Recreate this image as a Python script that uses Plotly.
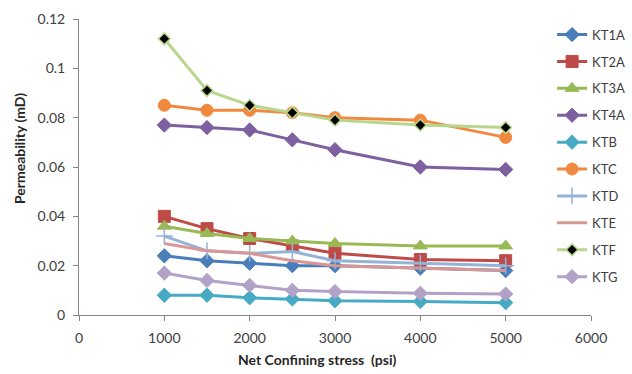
import plotly.graph_objects as go

stress = [1000, 1500, 2000, 2500, 3000, 4000, 5000]

KT1A = [0.024, 0.022, 0.021, 0.020, 0.020, 0.019, 0.018]
KT2A = [0.040, 0.035, 0.031, 0.028, 0.025, 0.0225, 0.022]
KT3A = [0.036, 0.033, 0.031, 0.030, 0.029, 0.028, 0.028]
KT4A = [0.077, 0.076, 0.075, 0.071, 0.067, 0.060, 0.059]
KTB = [0.008, 0.008, 0.007, 0.0065, 0.0058, 0.0055, 0.005]
KTC = [0.085, 0.083, 0.083, 0.082, 0.080, 0.079, 0.072]
KTD = [0.032, 0.026, 0.025, 0.0257, 0.022, 0.021, 0.020]
KTE = [0.029, 0.026, 0.025, 0.022, 0.020, 0.019, 0.018]
KTF = [0.112, 0.091, 0.085, 0.082, 0.079, 0.077, 0.076]
KTG = [0.017, 0.014, 0.012, 0.010, 0.0095, 0.0088, 0.0085]

names = ["KT1A", "KT2A", "KT3A", "KT4A", "KTB", "KTC", "KTD", "KTE", "KTF", "KTG"]
values = [KT1A, KT2A, KT3A, KT4A, KTB, KTC, KTD, KTE, KTF, KTG]

line_colors = ["#4A7EBB", "#BE4B48", "#98B954", "#7D60A0", "#46AAC5",
               "#F0883E", "#95B3D7", "#D99694", "#B8D68E", "#B3A2C7"]
symbols = ["diamond", "square", "triangle-up", "diamond", "diamond",
           "circle", "cross-thin", None, "diamond", "diamond"]
sizes = [11, 12, 12, 11, 11, 12, 12, 0, 9, 11]

fig = go.Figure()
for i, (n, v) in enumerate(zip(names, values)):
    col = line_colors[i]
    if symbols[i] is None:
        mode = "lines"
        marker = dict()
    elif symbols[i] == "cross-thin":
        mode = "lines+markers"
        marker = dict(symbol="cross-thin", size=sizes[i], color=col,
                      line=dict(color=col, width=1.5))
    elif n == "KTF":
        mode = "lines+markers"
        marker = dict(symbol="diamond", size=sizes[i], color="black",
                      line=dict(color=col, width=1.5))
    else:
        mode = "lines+markers"
        marker = dict(symbol=symbols[i], size=sizes[i], color=col,
                      line=dict(color=col, width=1))
    fig.add_trace(go.Scatter(x=stress, y=v, name=n, mode=mode,
                             line=dict(color=col, width=3),
                             marker=marker, legendgroup=n))

font_family = "Lato, Open Sans, sans-serif"
tick_font = dict(family=font_family, size=14, color="#404040")
title_font = dict(family=font_family, size=14, color="#262626")

fig.update_layout(
    width=632, height=374,
    margin=dict(l=79, r=41, t=19, b=59, autoexpand=False),
    paper_bgcolor="white", plot_bgcolor="white",
    font=tick_font,
    showlegend=True,
    legend=dict(x=0.924, y=0.998, xanchor="left", yanchor="top",
                bgcolor="rgba(0,0,0,0)", font=dict(family=font_family, size=13, color="#404040"),
                tracegroupgap=7, itemwidth=30, maxheight=360),
    xaxis=dict(range=[0, 6000], tickvals=[0, 1000, 2000, 3000, 4000, 5000, 6000],
               showgrid=False, zeroline=False, showline=True, linecolor="#868686",
               linewidth=1, ticks="outside", ticklen=5, tickcolor="#868686",
               tickfont=tick_font, ticklabelstandoff=5),
    yaxis=dict(range=[0, 0.12], tickvals=[0, 0.02, 0.04, 0.06, 0.08, 0.1, 0.12],
               ticktext=["0", "0.02", "0.04", "0.06", "0.08", "0.1", "0.12"],
               showgrid=False, zeroline=False, showline=True, linecolor="#868686",
               linewidth=1, ticks="outside", ticklen=5, tickcolor="#868686",
               tickfont=tick_font, ticklabelstandoff=5),
    annotations=[
        dict(text="<b>Net Confining stress  (psi)</b>", xref="paper", yref="paper",
             x=0.464, y=-0.152, xanchor="center", yanchor="middle",
             showarrow=False, font=title_font),
        dict(text="<b>Permeability (mD)</b>", xref="paper", yref="paper",
             x=-0.115, y=0.561, xanchor="center", yanchor="middle",
             textangle=-90, showarrow=False, font=title_font),
    ],
)

fig.write_html("out.html")
